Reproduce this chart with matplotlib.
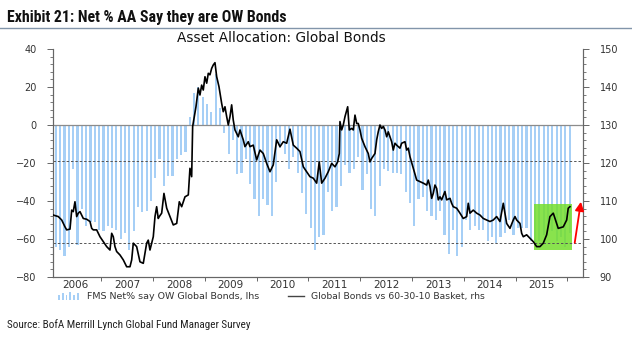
"""Recreate 'Exhibit 21: Net % AA Say they are OW Bonds' as out.png."""
import matplotlib
matplotlib.use("Agg")
import matplotlib.pyplot as plt
from matplotlib import font_manager
from matplotlib.patches import Rectangle
from matplotlib.lines import Line2D
from matplotlib.ticker import MultipleLocator, FixedLocator, NullFormatter
import numpy as np
import pandas as pd

# FMS net % saying overweight global bonds (monthly, lhs), starting Feb 2006
bar_start = "2006-02"
bar_values = [
    -64, -66, -69, -64, -23, -63, -44, -53, -51, -51, -55,
    -56, -53, -54, -55, -60, -57, -66, -56, -43, -46, -45, -40,
    -28, -18, -32, -27, -27, -18, -16, -14, 4, 17, 20, 15,
    11, 7, 27, 9, -4, -15, -8, -26, -25, -18, -31, -39,
    -48, -39, -42, -48, -30, -12, -15, -23, -17, -25, -36, -47,
    -54, -66, -59, -58, -35, -45, -43, -32, -21, -25, -23, -17,
    -34, -26, -44, -48, -32, -23, -24, -25, -25, -26, -35, -41,
    -53, -39, -38, -45, -48, -50, -45, -58, -68, -55, -69, -64,
    -50, -55, -53, -55, -55, -61, -59, -62, -59, -57, -50, -58,
    -54, -54, -54, -61, -62, -61, -58, -54, -56, -61, -59, -64,
    -57,
]

# Global bonds vs 60-30-10 basket (rhs), decimal years
line_t = [
    2006.073, 2006.170, 2006.236, 2006.299, 2006.332, 2006.396, 2006.429, 2006.459,
    2006.492, 2006.525, 2006.556, 2006.589, 2006.653, 2006.718, 2006.782, 2006.815,
    2006.846, 2006.911, 2006.975, 2007.039, 2007.104, 2007.168, 2007.201, 2007.232,
    2007.264, 2007.297, 2007.361, 2007.425, 2007.458, 2007.490, 2007.554, 2007.587,
    2007.618, 2007.683, 2007.747, 2007.811, 2007.876, 2007.907, 2007.940, 2008.004,
    2008.037, 2008.069, 2008.100, 2008.120, 2008.166, 2008.210, 2008.263, 2008.326,
    2008.390, 2008.456, 2008.506, 2008.552, 2008.616, 2008.680, 2008.712, 2008.745,
    2008.764, 2008.828, 2008.873, 2008.905, 2008.938, 2008.969, 2009.002, 2009.035,
    2009.066, 2009.098, 2009.131, 2009.162, 2009.195, 2009.228, 2009.272, 2009.324,
    2009.355, 2009.388, 2009.421, 2009.452, 2009.485, 2009.517, 2009.548, 2009.581,
    2009.645, 2009.678, 2009.741, 2009.774, 2009.838, 2009.871, 2009.934, 2010.000,
    2010.064, 2010.127, 2010.193, 2010.257, 2010.320, 2010.386, 2010.450, 2010.514,
    2010.579, 2010.643, 2010.707, 2010.772, 2010.836, 2010.900, 2010.965, 2011.029,
    2011.093, 2011.158, 2011.208, 2011.255, 2011.319, 2011.382, 2011.448, 2011.512,
    2011.564, 2011.595, 2011.608, 2011.641, 2011.672, 2011.705, 2011.757, 2011.788,
    2011.834, 2011.865, 2011.898, 2011.931, 2011.961, 2011.994, 2012.027, 2012.091,
    2012.154, 2012.187, 2012.220, 2012.284, 2012.317, 2012.347, 2012.380, 2012.413,
    2012.444, 2012.477, 2012.510, 2012.541, 2012.573, 2012.606, 2012.637, 2012.670,
    2012.703, 2012.766, 2012.799, 2012.863, 2012.896, 2012.927, 2012.959, 2013.023,
    2013.089, 2013.153, 2013.216, 2013.282, 2013.313, 2013.346, 2013.378, 2013.409,
    2013.442, 2013.475, 2013.506, 2013.539, 2013.571, 2013.635, 2013.668, 2013.732,
    2013.764, 2013.795, 2013.861, 2013.925, 2013.988, 2014.054, 2014.085, 2014.118,
    2014.181, 2014.247, 2014.311, 2014.375, 2014.440, 2014.504, 2014.568, 2014.633,
    2014.697, 2014.761, 2014.826, 2014.890, 2014.954, 2014.987, 2015.019, 2015.083,
    2015.116, 2015.147, 2015.212, 2015.276, 2015.340, 2015.405, 2015.469, 2015.533,
    2015.598, 2015.662, 2015.726, 2015.791, 2015.822, 2015.919, 2015.985, 2016.015,
    2016.048,
]
line_values = [
    106.3, 105.9, 105.0, 103.2, 102.4, 102.6, 107.6, 107.2,
    109.8, 105.9, 106.8, 107.2, 105.4, 105.2, 104.6, 102.8,
    102.4, 102.4, 100.6, 99.3, 98.0, 97.1, 101.5, 100.6,
    98.0, 96.7, 95.8, 94.5, 93.6, 92.7, 92.7, 94.5,
    98.9, 98.0, 94.0, 93.6, 98.9, 99.7, 97.1, 100.6,
    105.9, 108.5, 105.4, 105.9, 106.8, 112.0, 108.1, 105.9,
    103.7, 104.1, 109.8, 108.5, 111.1, 111.6, 118.6, 116.4,
    129.6, 134.8, 139.7, 137.9, 140.5, 139.2, 142.7, 141.0,
    143.6, 143.2, 144.9, 145.8, 146.4, 142.7, 140.1, 135.7,
    133.5, 134.8, 132.2, 130.0, 132.2, 135.3, 131.3, 128.7,
    126.9, 128.7, 126.1, 124.3, 125.6, 124.3, 124.7, 120.8,
    123.4, 122.5, 119.9, 117.7, 119.5, 126.1, 124.3, 125.6,
    125.2, 128.9, 124.7, 123.9, 123.0, 119.0, 117.7, 116.4,
    116.0, 114.7, 120.3, 114.7, 116.0, 117.7, 119.9, 119.0,
    120.3, 122.5, 130.9, 128.7, 130.0, 132.2, 134.8, 128.7,
    129.1, 128.7, 132.6, 130.4, 130.4, 128.7, 126.5, 124.3,
    122.5, 120.3, 121.2, 122.5, 126.1, 128.2, 130.0, 129.1,
    129.6, 128.7, 126.9, 128.2, 126.9, 125.6, 123.4, 125.2,
    124.7, 123.9, 125.2, 125.6, 123.4, 123.9, 121.7, 118.6,
    115.5, 115.1, 114.7, 114.2, 115.5, 113.8, 110.7, 112.0,
    114.2, 113.3, 110.3, 111.1, 110.3, 112.5, 110.3, 110.7,
    109.4, 108.5, 108.1, 106.8, 105.4, 105.9, 109.4, 106.8,
    107.6, 106.8, 106.3, 105.4, 105.0, 104.6, 105.0, 105.9,
    104.6, 109.4, 104.1, 102.8, 105.0, 105.9, 105.0, 104.1,
    101.5, 100.6, 101.1, 100.2, 99.3, 98.0, 98.0, 98.9,
    101.1, 105.9, 106.8, 104.1, 102.8, 103.2, 105.0, 108.1,
    108.5,
]

year_labels = [str(y) for y in range(2006, 2016)]
ref_levels = [-19, -62]          # dotted reference lines, lhs units

W, H = 632, 344
BAR_COLOR = "#a6cff6"
AXIS_COLOR = "#666666"
TEXT_COLOR = "#333333"


def pick_font(candidates):
    installed = {f.name for f in font_manager.fontManager.ttflist}
    for name in candidates:
        if name in installed:
            return name
    return "DejaVu Sans"


NARROW = pick_font(["Liberation Sans Narrow", "Roboto Condensed",
                    "Open Sans Condensed", "Noto Sans Condensed",
                    "Liberation Sans"])

months = pd.period_range(bar_start, periods=len(bar_values), freq="M")
bar_t = np.array([p.year + (p.month - 0.5) / 12 for p in months])

fig = plt.figure(figsize=(W / 100, H / 100), dpi=100)
ax = fig.add_axes([53 / W, 1 - 277 / H, 530 / W, 228 / H])
ax2 = ax.twinx()

ax.bar(bar_t, bar_values, width=0.042, color=BAR_COLOR, linewidth=0, zorder=2)
ax.axhline(0, color="#8c8c8c", lw=0.9, zorder=3)
for lvl in ref_levels:
    ax.axhline(lvl, color="#555555", lw=0.7, linestyle=(0, (2.5, 2)), zorder=5)

# highlight box for the recent rebound
ax.add_patch(Rectangle((2015.35, -65.8), 0.74, 24.2, facecolor="#74de2e",
                       alpha=0.85, edgecolor="none", zorder=4))

ax2.plot(line_t, line_values, color="black", lw=1.2, zorder=5)
ax2.annotate("", xy=(2016.26, 109.8), xytext=(2016.14, 99.0),
             arrowprops=dict(arrowstyle="-|>", color="red", lw=1.3,
                             mutation_scale=13, shrinkA=0, shrinkB=0))

ax.set_xlim(2006.068, 2016.30)
ax.set_ylim(-80, 40)
ax2.set_ylim(90, 150)

ax.yaxis.set_major_locator(MultipleLocator(20))
ax.yaxis.set_minor_locator(MultipleLocator(4))
ax2.yaxis.set_major_locator(MultipleLocator(10))
ax2.yaxis.set_minor_locator(MultipleLocator(2))

ax.xaxis.set_major_locator(FixedLocator([y + 0.5 for y in range(2006, 2016)]))
ax.set_xticklabels(year_labels)
ax.xaxis.set_minor_locator(FixedLocator(list(range(2007, 2017))))
ax.xaxis.set_minor_formatter(NullFormatter())

for a in (ax, ax2):
    a.spines["top"].set_visible(False)
    for side in ("left", "right", "bottom"):
        a.spines[side].set_color(AXIS_COLOR)
        a.spines[side].set_linewidth(0.8)

ax.tick_params(axis="x", which="major", length=0, pad=2.5,
               labelsize=7.5, labelcolor=TEXT_COLOR)
ax.tick_params(axis="x", which="minor", length=3, width=0.7,
               color=AXIS_COLOR, direction="out")
ax.tick_params(axis="y", which="major", length=4, width=0.7, pad=8,
               color=AXIS_COLOR, labelsize=7, labelcolor=TEXT_COLOR)
ax.tick_params(axis="y", which="minor", length=2.5, width=0.6, color=AXIS_COLOR)
ax2.tick_params(axis="y", which="major", length=4, width=0.7, pad=8,
                color=AXIS_COLOR, labelsize=7, labelcolor=TEXT_COLOR)
ax2.tick_params(axis="y", which="minor", length=2.5, width=0.6, color=AXIS_COLOR)

# titles
title = fig.text(7 / W, 1 - 17.5 / H, "Exhibit 21: Net % AA Say they are OW Bonds",
                 fontsize=11, fontweight="bold", family=NARROW,
                 ha="left", va="center", color="#111111")
fig.add_artist(Line2D([0, 1], [1 - 27.5 / H] * 2, color="#8295aa", lw=1))
fig.text(281 / W, 1 - 38 / H, "Asset Allocation: Global Bonds",
         fontsize=9.8, ha="center", va="center", color="#111111")

# legend, drawn by hand below the axis
for i, h in enumerate([5, 7, 5, 8, 5, 7]):
    fig.add_artist(Rectangle(((58 + i * 3.8) / W, 1 - 300 / H), 1.8 / W, h / H,
                             facecolor=BAR_COLOR, edgecolor="none"))
leg1 = fig.text(87 / W, 1 - 296.5 / H, "FMS Net% say OW Global Bonds, lhs",
                fontsize=6.8, ha="left", va="center", color=TEXT_COLOR)
fig.add_artist(Line2D([288 / W, 304 / W], [1 - 296 / H] * 2,
                      color="#444444", lw=1))
leg2 = fig.text(311 / W, 1 - 296.5 / H, "Global Bonds vs 60-30-10 Basket, rhs",
                fontsize=6.8, ha="left", va="center", color=TEXT_COLOR)

source = fig.text(7 / W, 1 - 325 / H,
                  "Source: BofA Merrill Lynch Global Fund Manager Survey",
                  fontsize=8, family=NARROW,
                  ha="left", va="center", color="#222222")

# size the free-standing texts to the widths they take in the original
renderer = fig.canvas.get_renderer()
for txt, target in ((title, 280), (source, 245), (leg1, 173), (leg2, 174)):
    width = txt.get_window_extent(renderer).width
    txt.set_fontsize(txt.get_fontsize() * target / width)

fig.savefig("out.png", dpi=100)
plt.close(fig)
